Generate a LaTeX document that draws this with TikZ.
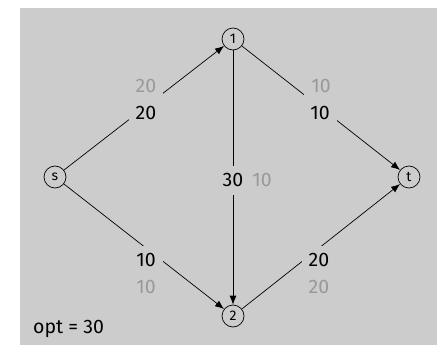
\documentclass[tikz,border=0pt]{standalone}
\usepackage{fontspec}
\setmainfont{Fira Sans}
\usetikzlibrary{arrows.meta, positioning}
\definecolor{panel}{HTML}{CCCCCC}
\definecolor{capgray}{HTML}{999999}

\begin{document}
\begin{tikzpicture}[
  x=1pt, y=-1pt,
  vertex/.style={circle, draw, line width=0.7pt, minimum size=22pt, inner sep=0pt,
    font=\fontsize{14}{14}\selectfont},
  edge/.style={-{Latex[length=9pt,width=7pt]}, line width=0.7pt},
  flow/.style={fill=panel, inner sep=7pt, text height=14pt, text depth=1pt,
    font=\fontsize{19.5}{19.5}\selectfont},
  capacity/.style={flow, text=capgray}
]
\useasboundingbox (0,0) rectangle (442,345);
\fill[panel] (20,8) rectangle (437,345);

\node[vertex] (s) at (55,177) {s};
\node[vertex] (n1) at (233,39) {1};
\node[vertex] (n2) at (233,316) {2};
\node[vertex] (t) at (409,177) {t};

\draw[edge] (s) -- (n1);
\draw[edge] (n1) -- (t);
\draw[edge] (n1) -- (n2);
\draw[edge] (s) -- (n2);
\draw[edge] (n2) -- (t);

% flow on top, capacity in gray
\node[flow] (fs1) at (146,113) {20};
\node[capacity] (cs1) at (146,86) {20};
\node[flow] (f1t) at (320,113) {10};
\node[capacity] (c1t) at (321,86) {10};
\node[flow] (f12) at (233,180) {30};
\node[capacity, inner sep=2pt] (c12) at (262,180) {10};
\node[flow] (fs2) at (146,260) {10};
\node[capacity] (cs2) at (146,287) {10};
\node[flow] (f2t) at (319,260) {20};
\node[capacity] (c2t) at (319,287) {20};

\node[anchor=west, inner sep=0pt, font=\fontsize{19.5}{19.5}\selectfont] (opt) at (33,329) {opt = 30};
\end{tikzpicture}
\end{document}
